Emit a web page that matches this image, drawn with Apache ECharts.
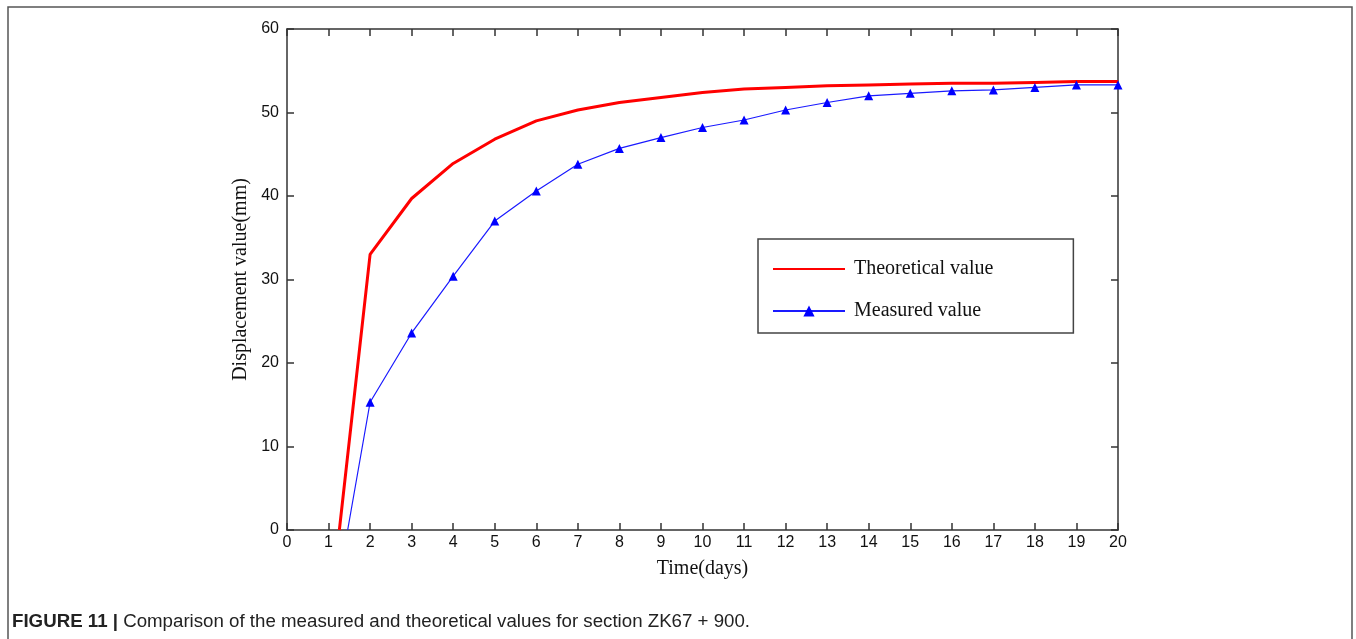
<!DOCTYPE html>
<html>
<head>
<meta charset="utf-8">
<script src="https://cdn.jsdelivr.net/npm/echarts@6/dist/echarts.min.js"></script>
<style>
  html, body { margin: 0; padding: 0; background: #fff; }
  #chart { width: 1356px; height: 639px; }
</style>
</head>
<body>
<div id="chart"></div>
<script>
// 时间（天）与位移值（mm）
var theoreticalX = [1.26, 2, 3, 4, 5, 6, 7, 8, 9, 10, 11, 12, 13, 14, 15, 16, 17, 18, 19, 20];
var theoreticalY = [0, 33.0, 39.7, 43.9, 46.8, 49.0, 50.3, 51.2, 51.8, 52.4, 52.8, 53.0, 53.2, 53.3, 53.4, 53.5, 53.5, 53.6, 53.7, 53.7];
var measuredX = [1.46, 2, 3, 4, 5, 6, 7, 8, 9, 10, 11, 12, 13, 14, 15, 16, 17, 18, 19, 20];
var measuredY = [0, 15.3, 23.6, 30.4, 37.0, 40.6, 43.8, 45.7, 47.0, 48.2, 49.1, 50.3, 51.2, 52.0, 52.3, 52.6, 52.7, 53.0, 53.3, 53.3];
var xTicks = [0, 20, 1];   // min, max, interval
var yTicks = [0, 60, 10];
var seriesNames = ['Theoretical value', 'Measured value'];
var caption = 'Comparison of the measured and theoretical values for section ZK67 + 900.';

var chart = echarts.init(document.getElementById('chart'));

var theoData = theoreticalX.map(function(x, i) { return [x, theoreticalY[i]]; });
var measData = measuredX.map(function(x, i) {
    var item = { value: [x, measuredY[i]] };
    if (measuredY[i] === 0) item.symbol = 'none'; //起点不画三角
    return item;
});

var axisLine = { show: true, onZero: false, lineStyle: { color: '#333', width: 1.5 } };
var tick = { show: true, inside: true, length: 7, lineStyle: { color: '#333', width: 1.5 } };
var tickLabel = { color: '#111', fontFamily: 'Liberation Sans, Arial, sans-serif', fontSize: 16 };
var serifName = { color: '#111', fontFamily: 'Liberation Serif, Times New Roman, serif', fontSize: 20 };

var option = {
    backgroundColor: '#fff',
    animation: false,
    grid: { left: 287, right: 238, top: 29, bottom: 109, containLabel: false },
    legend: {
        left: 758,
        top: 239,
        orient: 'vertical',
        padding: [20, 80, 12, 14],
        itemWidth: 72,
        itemHeight: 14,
        itemGap: 22,
        borderColor: '#444',
        borderWidth: 1.5,
        backgroundColor: '#fff',
        textStyle: { color: '#111', fontFamily: 'Liberation Serif, Times New Roman, serif', fontSize: 20, padding: [0, 0, 0, 4] },
        data: [
            { name: seriesNames[0], itemStyle: { opacity: 0 } },
            { name: seriesNames[1] }
        ]
    },
    xAxis: [{
        type: 'value', min: xTicks[0], max: xTicks[1], interval: xTicks[2],
        name: 'Time(days)', nameLocation: 'middle', nameGap: 29, nameTextStyle: serifName,
        axisLine: axisLine, axisTick: tick, axisLabel: Object.assign({ margin: 5 }, tickLabel),
        splitLine: { show: false }
    }, {
        type: 'value', position: 'top', min: xTicks[0], max: xTicks[1], interval: xTicks[2],
        axisLine: axisLine, axisTick: tick, axisLabel: { show: false }, splitLine: { show: false }
    }],
    yAxis: [{
        type: 'value', min: yTicks[0], max: yTicks[1], interval: yTicks[2],
        name: 'Displacement value(mm)', nameLocation: 'middle', nameGap: 28, nameTextStyle: serifName,
        axisLine: axisLine, axisTick: tick, axisLabel: Object.assign({ margin: 8 }, tickLabel),
        splitLine: { show: false }
    }, {
        type: 'value', position: 'right', min: yTicks[0], max: yTicks[1], interval: yTicks[2],
        axisLine: axisLine, axisTick: tick, axisLabel: { show: false }, splitLine: { show: false }
    }],
    graphic: [{
        type: 'rect', silent: true,
        shape: { x: 8, y: 7, width: 1344, height: 700 },
        style: { fill: 'none', stroke: '#555', lineWidth: 1.5 }
    }, {
        type: 'text', left: 12, top: 612,
        style: {
            text: '{b|FIGURE 11 |} ' + caption,
            rich: {
                b: { fontWeight: 'bold', fontFamily: 'Liberation Sans, Arial, sans-serif', fontSize: 18.7, fill: '#222' }
            },
            fontFamily: 'Liberation Sans, Arial, sans-serif',
            fontSize: 18.7,
            fill: '#222'
        }
    }],
    series: [{
        name: seriesNames[0],
        type: 'line',
        data: theoData,
        symbol: 'none',
        lineStyle: { color: '#ff0000', width: 3 },
        itemStyle: { color: '#ff0000' }
    }, {
        name: seriesNames[1],
        type: 'line',
        data: measData,
        symbol: 'triangle',
        symbolSize: 9,
        lineStyle: { color: '#1a1aff', width: 1.2 },
        itemStyle: { color: '#0000ff' }
    }]
};
chart.setOption(option);
</script>
</body>
</html>
